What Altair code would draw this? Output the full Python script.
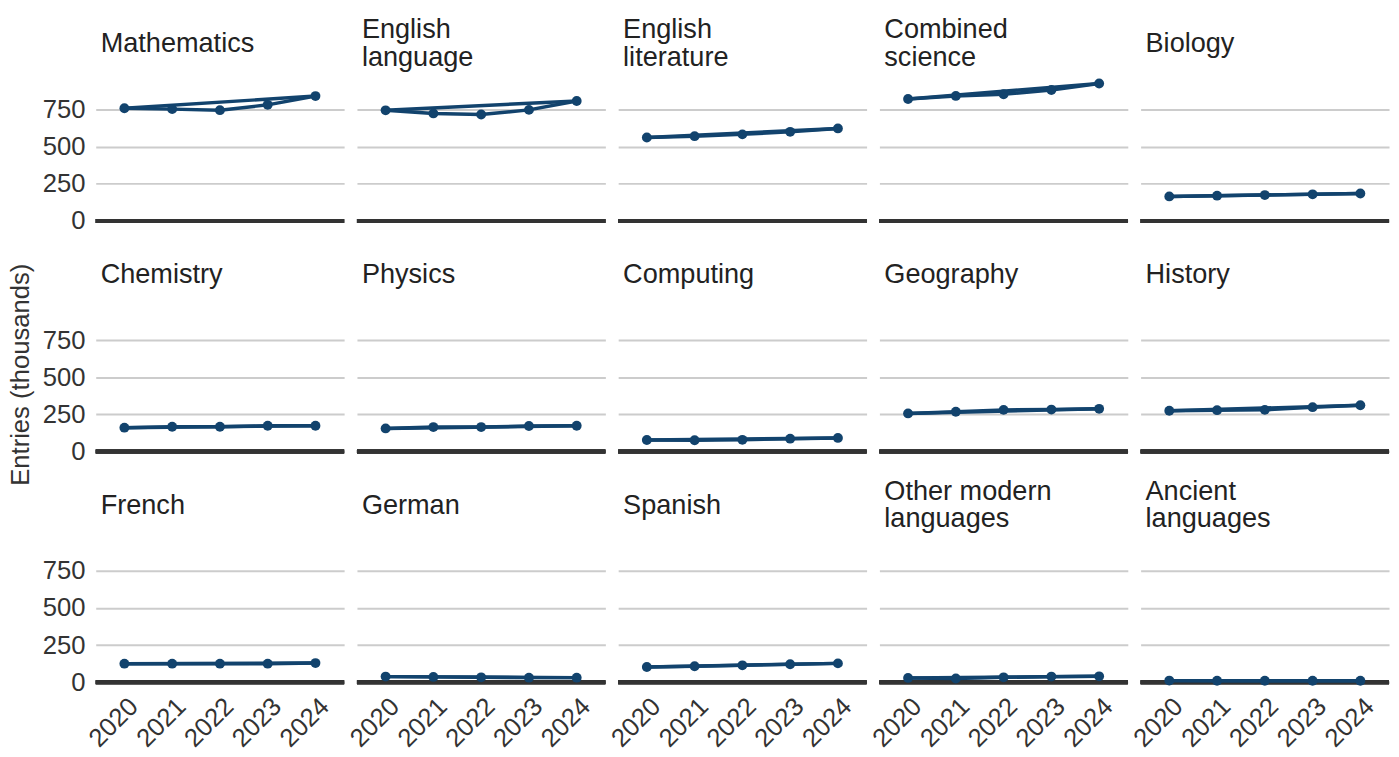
import altair as alt
import pandas as pd

years = [2020, 2021, 2022, 2023, 2024]
subjects = [
    "Mathematics", "English language", "English literature", "Combined science", "Biology",
    "Chemistry", "Physics", "Computing", "Geography", "History",
    "French", "German", "Spanish", "Other modern languages", "Ancient languages",
]
mathematics = [759, 753, 746, 782, 841]
english_language = [745, 724, 717, 748, 808]
english_literature = [562, 571, 583, 600, 623]
combined_science = [821, 842, 853, 882, 926]
biology = [165, 170, 174, 179, 185]
chemistry = [161, 167, 167, 174, 174]
physics = [156, 165, 165, 172, 174]
computing = [78, 76, 79, 87, 92]
geography = [257, 268, 281, 283, 288]
history = [275, 279, 281, 299, 312]
french = [125, 125, 125, 125, 129]
german = [38, 36, 33, 31, 31]
spanish = [103, 108, 114, 121, 127]
other_modern_languages = [29, 25, 33, 38, 40]
ancient_languages = [11, 10, 10, 10, 10]

series = [
    mathematics, english_language, english_literature, combined_science, biology,
    chemistry, physics, computing, geography, history,
    french, german, spanish, other_modern_languages, ancient_languages,
]

rows = []
for subj, vals in zip(subjects, series):
    for yr, v in zip(years, vals):
        rows.append({"subject": subj, "year": yr, "entries": v})
df = pd.DataFrame(rows)

FONT = "Liberation Sans"
NAVY = "#12436D"

x_enc = alt.X(
    "year:O",
    title=None,
    scale=alt.Scale(type="point", padding=0.6),
    axis=alt.Axis(labelAngle=315, labelFontSize=26, labelFont=FONT, labelColor="#333333",
                  labelPadding=4, ticks=False, domain=False, grid=False),
)
y_enc = alt.Y(
    "entries:Q",
    title=None,
    scale=alt.Scale(domain=[-46, 970], nice=False, zero=False),
    axis=alt.Axis(values=[0, 250, 500, 750], labelFontSize=26, labelFont=FONT,
                  labelColor="#333333", labelPadding=9, ticks=False, domain=False,
                  grid=True, gridColor="#cccccc", gridWidth=2),
)

zero_rule = alt.Chart().mark_rule(color="#333333", strokeWidth=4).encode(y=alt.datum(0))
line_all = alt.Chart().mark_line(color=NAVY, strokeWidth=3.5).encode(x=x_enc, y=y_enc)
line_ends = alt.Chart().mark_line(color=NAVY, strokeWidth=3.5).encode(x=x_enc, y=y_enc).transform_filter(
    alt.FieldOneOfPredicate(field="year", oneOf=[years[0], years[-1]])
)
points = alt.Chart().mark_circle(color=NAVY, size=100, opacity=1).encode(x=x_enc, y=y_enc)

# panel titles: long names wrap onto two lines, centred on the same height as one-line names
title_props = dict(font=FONT, fontSize=27.5, color="#222222", align="left", baseline="middle",
                   lineBreak="\n", lineHeight=28)
short_titles = alt.Chart().mark_text(dy=0, **title_props).encode(
    x=alt.value(5), y=alt.value(-33), text="label:N"
).transform_filter(
    f"datum.year == {years[0]} && length(datum.subject) <= 12"
).transform_calculate(label="datum.subject")
long_titles = alt.Chart().mark_text(dy=-14, **title_props).encode(
    x=alt.value(5), y=alt.value(-33), text="label:N"
).transform_filter(
    f"datum.year == {years[0]} && length(datum.subject) > 12"
).transform_calculate(
    label="substring(datum.subject, 0, lastindexof(datum.subject, ' ')) + '\\n' + "
          "substring(datum.subject, lastindexof(datum.subject, ' ') + 1)"
)

layered = alt.layer(zero_rule, line_all, line_ends, points, short_titles, long_titles,
                    data=df).properties(width=252, height=153)

chart = layered.facet(
    facet=alt.Facet("subject:N", sort=subjects, title=None,
                    header=alt.Header(labelExpr="''", labelFontSize=1, labelPadding=0)),
    columns=5,
    spacing={"row": 19, "column": 9},
).properties(
    title=alt.TitleParams("Entries (thousands)", orient="left", anchor="middle", fontSize=26,
                          font=FONT, fontWeight="normal", color="#333333", offset=8, dx=9),
    padding={"left": 0, "top": 2.5, "right": 0, "bottom": 0},
).configure_view(stroke=None)

chart.save("out.html", embed_options={"renderer": "svg", "actions": False})
